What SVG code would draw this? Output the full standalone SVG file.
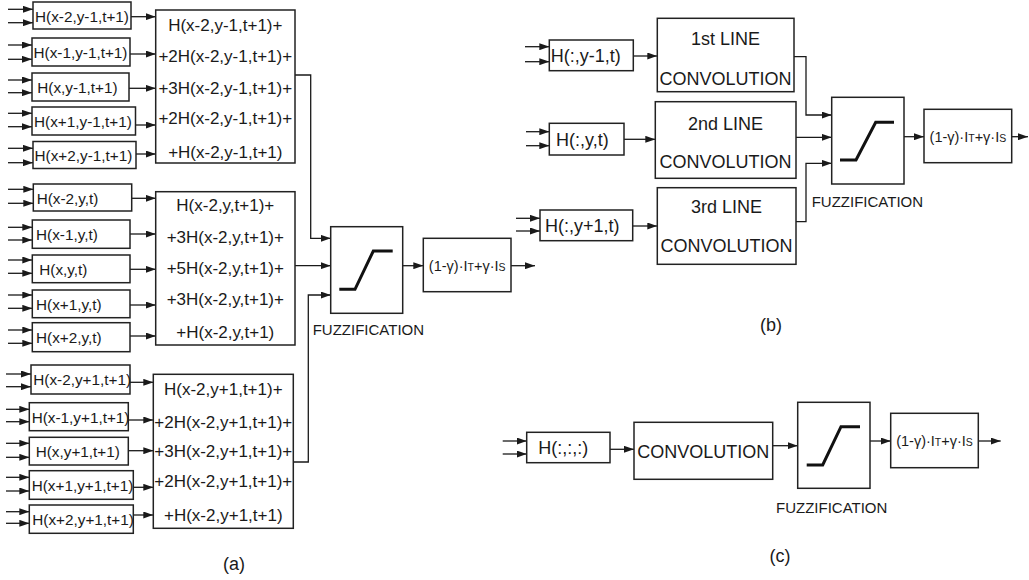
<svg xmlns="http://www.w3.org/2000/svg" width="1029" height="580" viewBox="0 0 1029 580">
<defs>
<marker id="ah" markerUnits="userSpaceOnUse" markerWidth="10" markerHeight="7" refX="10" refY="3.5" orient="auto">
<path d="M0,0 L10,3.5 L0,7 z" fill="#1a1a1a"/>
</marker>
<style>
.b{fill:#fff;stroke:#222;stroke-width:1.5}
.a{fill:none;stroke:#1a1a1a;stroke-width:1.3;marker-end:url(#ah)}
.s{fill:none;stroke:#111;stroke-width:3}
text{font-family:"Liberation Sans",Arial,sans-serif;fill:#1a1a1a}
.l{font-size:15.3px}
.m{font-size:17px;text-anchor:middle}
.h{font-size:18px}
.cv{font-size:18px;text-anchor:middle}
.f{font-size:15px}
.o{font-size:14.5px;text-anchor:middle}
.sub{font-size:10.5px}
.lab{font-size:18px;text-anchor:middle}
</style>
</defs>
<g id="connectors">
<path class="a" d="M8,9.3H33"/><path class="a" d="M8,22.7H33"/>
<path class="a" d="M8,45H32"/><path class="a" d="M8,59.3H32"/>
<path class="a" d="M8,80H32"/><path class="a" d="M8,92.7H32"/>
<path class="a" d="M8,113.3H32"/><path class="a" d="M8,126.7H32"/>
<path class="a" d="M8,148.3H33"/><path class="a" d="M8,162.7H33"/>
<path class="a" d="M131,16.7H155.7"/><path class="a" d="M130,54H155.7"/><path class="a" d="M129,88.3H155.7"/><path class="a" d="M135.5,125H155.7"/><path class="a" d="M136,154H155.7"/>
<path class="a" d="M8,189.3H33.3"/><path class="a" d="M8,203.3H33.3"/>
<path class="a" d="M8,227.3H32.3"/><path class="a" d="M8,240H32.3"/>
<path class="a" d="M8,260H32.3"/><path class="a" d="M8,273.3H32.3"/>
<path class="a" d="M8,295H32.3"/><path class="a" d="M8,308.3H32.3"/>
<path class="a" d="M8,330H32.3"/><path class="a" d="M8,343.3H32.3"/>
<path class="a" d="M131.7,198.3H155.7"/><path class="a" d="M130,234H155.7"/><path class="a" d="M130,269.3H155.7"/><path class="a" d="M130,305H155.7"/><path class="a" d="M130,336H155.7"/>
<path class="a" d="M6,374H31"/><path class="a" d="M6,386.7H31"/>
<path class="a" d="M6,409.3H29.3"/><path class="a" d="M6,421.7H29.3"/>
<path class="a" d="M6,443.3H29.3"/><path class="a" d="M6,457.3H29.3"/>
<path class="a" d="M6,477.3H29.3"/><path class="a" d="M6,491H29.3"/>
<path class="a" d="M6,511.7H29.3"/><path class="a" d="M6,523.3H29.3"/>
<path class="a" d="M130,382.3H153.3"/><path class="a" d="M128.3,420H153.3"/><path class="a" d="M128.3,450.7H153.3"/><path class="a" d="M133.3,487.3H153.3"/><path class="a" d="M133.3,515H153.3"/>
<path class="a" d="M295,75H310.7V238.3H330.7"/>
<path class="a" d="M295,265.7H330.7"/>
<path class="a" d="M293.3,462H308.3V295H330.7"/>
<path class="a" d="M402.7,265.7H423.3"/>
<path class="a" d="M511,265.7H535"/>
<path class="a" d="M525,46.7H549.3"/><path class="a" d="M525,61.7H549.3"/>
<path class="a" d="M526,131.7H549.3"/><path class="a" d="M526,145.7H549.3"/>
<path class="a" d="M516,218.3H540"/><path class="a" d="M516,231H540"/>
<path class="a" d="M633.3,56H657.3"/><path class="a" d="M624,139.3H655.3"/><path class="a" d="M632.7,226H657.3"/>
<path class="a" d="M794,56.7H806V115H831.7"/>
<path class="a" d="M796,137.3H831.7"/>
<path class="a" d="M796,221.7H806V163.3H831.7"/>
<path class="a" d="M904,136.7H924"/>
<path class="a" d="M1011.7,136.7H1028"/>
<path class="a" d="M502.7,441H526.7"/><path class="a" d="M502.7,454H526.7"/>
<path class="a" d="M610,449.3H634"/>
<path class="a" d="M772.7,445.7H797.7"/>
<path class="a" d="M870,441H890.7"/>
<path class="a" d="M978.3,441H1000.7"/>
</g>
<g id="n_g1_1"><rect class="b" x="33" y="2" width="98" height="27"/><text class="l" x="35" y="21.5">H(x-2,y-1,t+1)</text></g>
<g id="n_g1_2"><rect class="b" x="32" y="38" width="98" height="28"/><text class="l" x="33.5" y="58">H(x-1,y-1,t+1)</text></g>
<g id="n_g1_3"><rect class="b" x="32" y="73" width="97" height="28"/><text class="l" x="37.3" y="93">H(x,y-1,t+1)</text></g>
<g id="n_g1_4"><rect class="b" x="32" y="107" width="103.5" height="28"/><text class="l" x="34" y="127">H(x+1,y-1,t+1)</text></g>
<g id="n_g1_5"><rect class="b" x="33" y="141.5" width="103" height="27"/><text class="l" x="34.5" y="161">H(x+2,y-1,t+1)</text></g>
<g id="n_sum1"><rect class="b" x="155.7" y="10" width="139.3" height="153"/>
<text class="m" x="225.3" y="31">H(x-2,y-1,t+1)+</text>
<text class="m" x="225.3" y="62">+2H(x-2,y-1,t+1)+</text>
<text class="m" x="225.3" y="94.3">+3H(x-2,y-1,t+1)+</text>
<text class="m" x="225.3" y="124.3">+2H(x-2,y-1,t+1)+</text>
<text class="m" x="225.3" y="157.7">+H(x-2,y-1,t+1)</text></g>
<g id="n_g2_1"><rect class="b" x="33.3" y="184" width="98.4" height="27"/><text class="l" x="36.7" y="203.5">H(x-2,y,t)</text></g>
<g id="n_g2_2"><rect class="b" x="32.3" y="220" width="97.7" height="28.3"/><text class="l" x="36" y="240">H(x-1,y,t)</text></g>
<g id="n_g2_3"><rect class="b" x="32.3" y="255" width="97.7" height="27.7"/><text class="l" x="39.3" y="274.7">H(x,y,t)</text></g>
<g id="n_g2_4"><rect class="b" x="32.3" y="290" width="97.7" height="27.7"/><text class="l" x="36" y="309.7">H(x+1,y,t)</text></g>
<g id="n_g2_5"><rect class="b" x="32.3" y="322.7" width="97.7" height="29"/><text class="l" x="36" y="343">H(x+2,y,t)</text></g>
<g id="n_sum2"><rect class="b" x="155.7" y="191.7" width="139.3" height="153.3"/>
<text class="m" x="225.3" y="211">H(x-2,y,t+1)+</text>
<text class="m" x="225.3" y="243.3">+3H(x-2,y,t+1)+</text>
<text class="m" x="225.3" y="274.3">+5H(x-2,y,t+1)+</text>
<text class="m" x="225.3" y="305.3">+3H(x-2,y,t+1)+</text>
<text class="m" x="225.3" y="337.7">+H(x-2,y,t+1)</text></g>
<g id="n_g3_1"><rect class="b" x="31" y="365" width="99" height="29"/><text class="l" x="33.3" y="385.3">H(x-2,y+1,t+1)</text></g>
<g id="n_g3_2"><rect class="b" x="29.3" y="402.7" width="99" height="28"/><text class="l" x="31.7" y="422.5">H(x-1,y+1,t+1)</text></g>
<g id="n_g3_3"><rect class="b" x="29.3" y="437.3" width="99" height="27.7"/><text class="l" x="35.7" y="457">H(x,y+1,t+1)</text></g>
<g id="n_g3_4"><rect class="b" x="29.3" y="470.7" width="104" height="28.6"/><text class="l" x="31.7" y="490.8">H(x+1,y+1,t+1)</text></g>
<g id="n_g3_5"><rect class="b" x="29.3" y="505" width="104" height="28.3"/><text class="l" x="32.3" y="525">H(x+2,y+1,t+1)</text></g>
<g id="n_sum3"><rect class="b" x="153.3" y="374.3" width="140" height="154"/>
<text class="m" x="223.3" y="395.3">H(x-2,y+1,t+1)+</text>
<text class="m" x="223.3" y="427.7">+2H(x-2,y+1,t+1)+</text>
<text class="m" x="223.3" y="456.7">+3H(x-2,y+1,t+1)+</text>
<text class="m" x="223.3" y="486.7">+2H(x-2,y+1,t+1)+</text>
<text class="m" x="223.3" y="521">+H(x-2,y+1,t+1)</text></g>
<g id="n_fuzz_a"><rect class="b" x="330.7" y="226.7" width="72" height="86.6"/>
<path class="s" d="M339.3,289.3H355L373.3,251H392.7"/>
<text class="f" x="312.7" y="335">FUZZIFICATION</text></g>
<g id="n_out_a"><rect class="b" x="423.3" y="238.3" width="87.7" height="53.4"/>
<text class="o" x="467.2" y="271">(1-γ)·I<tspan class="sub">T</tspan>+γ·I<tspan class="sub">S</tspan></text></g>
<text class="lab" x="234" y="570">(a)</text>
<g id="n_b_h1"><rect class="b" x="549.3" y="40" width="84" height="30.7"/><text class="h" x="550.7" y="62">H(:,y-1,t)</text></g>
<g id="n_b_h2"><rect class="b" x="549.3" y="123.3" width="74.7" height="31.7"/><text class="h" x="556" y="145.5">H(:,y,t)</text></g>
<g id="n_b_h3"><rect class="b" x="540" y="210" width="92.7" height="30.7"/><text class="h" x="545" y="232">H(:,y+1,t)</text></g>
<g id="n_b_c1"><rect class="b" x="657.3" y="18.3" width="136.7" height="73.4"/>
<text class="cv" x="725.6" y="45">1st LINE</text><text class="cv" x="725.6" y="85">CONVOLUTION</text></g>
<g id="n_b_c2"><rect class="b" x="655.3" y="101.7" width="140.7" height="76.6"/>
<text class="cv" x="725.6" y="130">2nd LINE</text><text class="cv" x="725.6" y="168.3">CONVOLUTION</text></g>
<g id="n_b_c3"><rect class="b" x="657.3" y="187.7" width="138.7" height="76.6"/>
<text class="cv" x="726.6" y="213.3">3rd LINE</text><text class="cv" x="726.6" y="252.3">CONVOLUTION</text></g>
<g id="n_fuzz_b"><rect class="b" x="831.7" y="97.3" width="72.3" height="86.7"/>
<path class="s" d="M840,160H856L875.7,122.3H894"/>
<text class="f" x="811.7" y="206.7">FUZZIFICATION</text></g>
<g id="n_out_b"><rect class="b" x="924" y="109.3" width="87.7" height="53.4"/>
<text class="o" x="967.9" y="142">(1-γ)·I<tspan class="sub">T</tspan>+γ·I<tspan class="sub">S</tspan></text></g>
<text class="lab" x="771" y="331">(b)</text>
<g id="n_c_h"><rect class="b" x="526.7" y="432.3" width="83.3" height="30.4"/><text class="h" x="538.3" y="454">H(:,:,:)</text></g>
<g id="n_c_conv"><rect class="b" x="634" y="422.3" width="138.7" height="57"/><text class="cv" x="703.3" y="458.3">CONVOLUTION</text></g>
<g id="n_fuzz_c"><rect class="b" x="797.7" y="402.3" width="72.3" height="86"/>
<path class="s" d="M806.7,465H822.7L841,426.7H860"/>
<text class="f" x="776" y="513.3">FUZZIFICATION</text></g>
<g id="n_out_c"><rect class="b" x="890.7" y="413.3" width="87.6" height="54.4"/>
<text class="o" x="934.5" y="446">(1-γ)·I<tspan class="sub">T</tspan>+γ·I<tspan class="sub">S</tspan></text></g>
<text class="lab" x="780" y="562">(c)</text>
</svg>
